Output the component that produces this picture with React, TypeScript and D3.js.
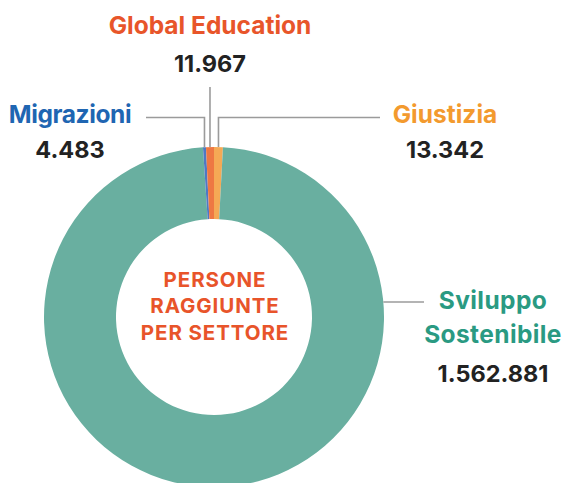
import React from 'react';
import * as d3 from 'd3';

const sectors = ['Giustizia', 'Sviluppo Sostenibile', 'Migrazioni', 'Global Education'];
const people = [13342, 1562881, 4483, 11967];
const sliceColors = ['#F5A955', '#69AFA0', '#4F78C4', '#EE7843'];
const labelColors = ['#F39A2E', '#2A9A82', '#1F66B2', '#E8552A'];
const centerLines = ['PERSONE', 'RAGGIUNTE', 'PER SETTORE'];

const W = 567;
const H = 483;
const cx = 214;
const cy = 317;
const outerR = 170;
const innerR = 98;
const font = "Inter, sans-serif";

interface Slice {
  name: string;
  value: number;
}

const fmt = (v: number) => d3.format(',')(v).replace(/,/g, '.');

export default function App() {
  const data: Slice[] = sectors.map((name, i) => ({ name, value: people[i] }));
  const pie = d3.pie<Slice>().value((d) => d.value).sort(null);
  const arcs = pie(data);
  const arcGen = d3.arc<d3.PieArcDatum<Slice>>().innerRadius(innerR).outerRadius(outerR);

  // point on outer edge at a given angle (0 = top, clockwise)
  const edge = (a: number) => [cx + outerR * Math.sin(a), cy - outerR * Math.cos(a)];
  const mid = (d: d3.PieArcDatum<Slice>) => (d.startAngle + d.endAngle) / 2;

  const lineColor = '#9B9B9B';
  const nameSize = 24.5;
  const valSize = 23.5;
  const leaders: JSX.Element[] = [];
  const labels: JSX.Element[] = [];

  arcs.forEach((d, i) => {
    const name = d.data.name;
    const col = labelColors[i];
    const val = fmt(d.data.value);
    if (name === 'Migrazioni') {
      const [x, y] = edge(mid(d));
      leaders.push(<polyline key={name} points={`${x},${y} ${x},117.5 146,117.5`} fill="none" stroke={lineColor} strokeWidth={1.6} />);
      labels.push(
        <g key={name}>
          <text x={70} y={123} textAnchor="middle" fill={col} fontSize={nameSize} fontWeight={700} letterSpacing={-0.4}>{name}</text>
          <text x={70} y={157.5} textAnchor="middle" fill="#222" fontSize={valSize} fontWeight={700}>{val}</text>
        </g>
      );
    } else if (name === 'Global Education') {
      const [x, y] = edge(mid(d));
      leaders.push(<line key={name} x1={x} y1={y} x2={x} y2={87} stroke={lineColor} strokeWidth={1.6} />);
      labels.push(
        <g key={name}>
          <text x={210} y={34} textAnchor="middle" fill={col} fontSize={nameSize} fontWeight={700}>{name}</text>
          <text x={210} y={71.5} textAnchor="middle" fill="#222" fontSize={valSize} fontWeight={700}>{val}</text>
        </g>
      );
    } else if (name === 'Giustizia') {
      const [x, y] = edge(mid(d));
      leaders.push(<polyline key={name} points={`${x},${y} ${x},117.5 380,117.5`} fill="none" stroke={lineColor} strokeWidth={1.6} />);
      labels.push(
        <g key={name}>
          <text x={445} y={123} textAnchor="middle" fill={col} fontSize={nameSize} fontWeight={700}>{name}</text>
          <text x={445} y={157.5} textAnchor="middle" fill="#222" fontSize={valSize} fontWeight={700}>{val}</text>
        </g>
      );
    } else {
      const [x, y] = edge(Math.PI / 2 - Math.asin(15 / outerR));
      leaders.push(<line key={name} x1={x} y1={y} x2={424} y2={y} stroke={lineColor} strokeWidth={1.6} />);
      const words = name.split(' ');
      labels.push(
        <g key={name}>
          <text x={493} y={309} textAnchor="middle" fill={col} fontSize={nameSize} fontWeight={700} letterSpacing={0.4}>{words[0]}</text>
          <text x={493} y={342.5} textAnchor="middle" fill={col} fontSize={nameSize} fontWeight={700} letterSpacing={0.4}>{words[1]}</text>
          <text x={493} y={381.5} textAnchor="middle" fill="#222" fontSize={valSize} fontWeight={700}>{val}</text>
        </g>
      );
    }
  });

  return (
    <svg width={W} height={H} style={{ position: 'absolute', left: 0, top: 0, background: '#fff' }} fontFamily={font}>
      <g transform={`translate(${cx},${cy})`}>
        {arcs.map((d, i) => (
          <path key={d.data.name} d={arcGen(d) || ''} fill={sliceColors[i]} />
        ))}
      </g>
      {leaders}
      {labels}
      {centerLines.map((t, i) => (
        <text key={t} x={cx + 1} y={286.5 + i * 26.7} textAnchor="middle" fill="#E8542A" fontSize={20.5} fontWeight={700} letterSpacing={0.9}>{t}</text>
      ))}
    </svg>
  );
}
